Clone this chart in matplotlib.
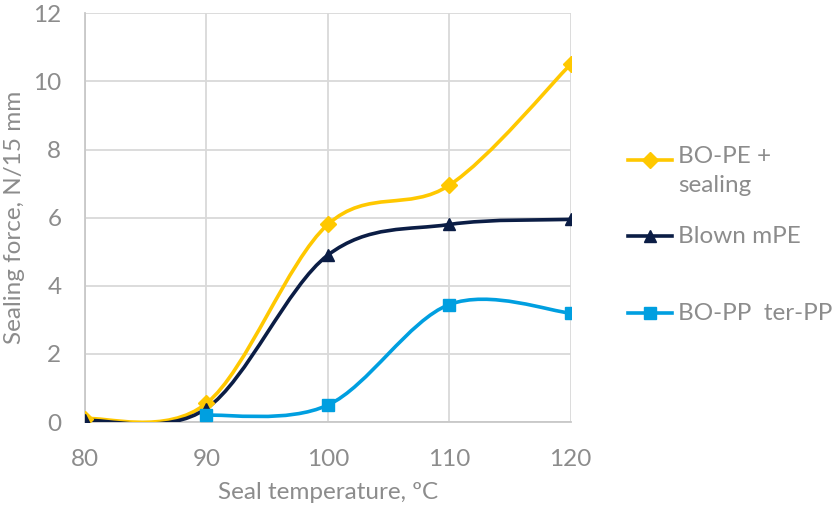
import numpy as np
import matplotlib.pyplot as plt
from matplotlib.path import Path
from matplotlib.patches import PathPatch
from matplotlib.lines import Line2D

plt.rcParams['font.family'] = ['Lato', 'DejaVu Sans']

temps = [80, 90, 100, 110, 120]
bo_pe = [0.1, 0.55, 5.8, 6.95, 10.5]
blown_mpe = [0.05, 0.4, 4.9, 5.8, 5.95]
bo_pp_temps = [90, 100, 110, 120]
bo_pp = [0.2, 0.5, 3.45, 3.2]

labels = ["BO-PE +\nsealing", "Blown mPE", "BO-PP  ter-PP"]
colors = ["#FFC800", "#0B1D45", "#009FE0"]
markers = ["D", "^", "s"]

TEXT = "#8C8C8C"
GRID = "#D9D9D9"
FS = 17.5


def smooth_path(xs, ys):
    # Excel-style smoothed line: cubic bezier segments (Catmull-Rom)
    pts = np.column_stack([xs, ys]).astype(float)
    n = len(pts)
    verts = [pts[0]]
    codes = [Path.MOVETO]
    for i in range(n - 1):
        p0 = pts[i - 1] if i > 0 else pts[i]
        p1 = pts[i]
        p2 = pts[i + 1]
        p3 = pts[i + 2] if i + 2 < n else pts[i + 1]
        c1 = p1 + (p2 - p0) / 6.0
        c2 = p2 - (p3 - p1) / 6.0
        verts += [c1, c2, p2]
        codes += [Path.CURVE4] * 3
    return Path(verts, codes)


fig = plt.figure(figsize=(8.33, 5.08), dpi=100)
ax = fig.add_axes([0.102, 0.169, 0.583, 0.805])

series = [(temps, bo_pe), (temps, blown_mpe), (bo_pp_temps, bo_pp)]
msizes = [8, 9, 9]
for (xs, ys), c, m, ms in zip(series, colors, markers, msizes):
    ax.add_patch(PathPatch(smooth_path(xs, ys), fill=False, edgecolor=c,
                           lw=2.6, zorder=3, capstyle='round'))
    ax.plot(xs, ys, linestyle='none', marker=m, markersize=ms, color=c, zorder=4)

ax.set_xlim(80, 120)
ax.set_ylim(0, 12)
ax.set_xticks(temps)
ax.set_yticks(range(0, 13, 2))
ax.grid(True, color=GRID, lw=1.3, zorder=0)
for s in ["top", "right"]:
    ax.spines[s].set_visible(False)
for s in ["left", "bottom"]:
    ax.spines[s].set_color("#C8C8C8")
    ax.spines[s].set_linewidth(1.3)
ax.tick_params(length=0, labelsize=FS, colors=TEXT)
ax.tick_params(axis="x", pad=19)
ax.tick_params(axis="y", pad=17)
ax.set_xlabel("Seal temperature, ºC", fontsize=FS, color=TEXT, labelpad=9)
ax.set_ylabel("Sealing force, N/15 mm", fontsize=FS, color=TEXT, labelpad=6)

# legend drawn by hand to get Excel's uneven entry spacing
legend_y = [160, 236, 313]
for c, m, ms, lab, y in zip(colors, markers, msizes, labels, legend_y):
    fy = 1 - y / 508
    fig.add_artist(Line2D([628 / 833, 672 / 833], [fy, fy], color=c, lw=2.6,
                          transform=fig.transFigure))
    fig.add_artist(Line2D([650 / 833], [fy], color=c, marker=m, markersize=ms,
                          transform=fig.transFigure))
    if "\n" in lab:
        fig.text(678 / 833, fy + 14 / 508, lab, fontsize=FS, color=TEXT,
                 va="top", ha="left", linespacing=1.45)
    else:
        fig.text(678 / 833, fy, lab, fontsize=FS, color=TEXT, va="center", ha="left")

fig.savefig("out.png", dpi=100)
